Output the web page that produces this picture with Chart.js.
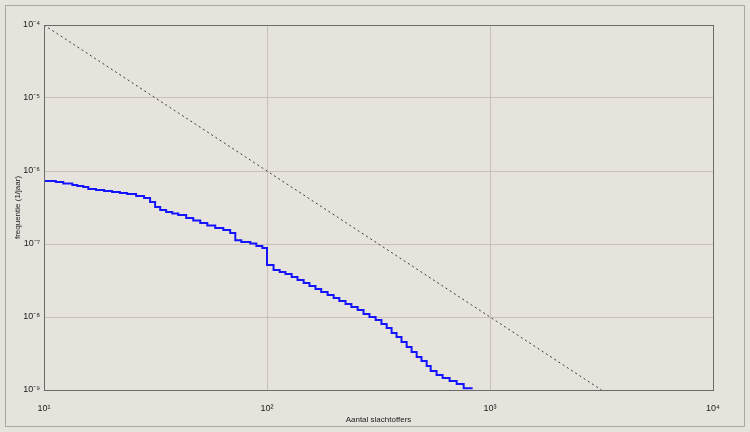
<!DOCTYPE html>
<html>
<head>
<meta charset="utf-8">
<script src="https://cdn.jsdelivr.net/npm/chart.js@4/dist/chart.umd.min.js"></script>
<style>
  html, body { margin: 0; padding: 0; background: #e6e3dd; }
  #wrap { width: 750px; height: 432px; }
</style>
</head>
<body>
<div id="wrap"><canvas id="c" width="750" height="432"></canvas></div>
<script>
// FN-curve: number of victims (N) and frequency (1/year), step points
const stepN = [10, 11.3, 12.2, 13.4, 14.1, 15.0, 15.8, 17.1, 18.6, 20.2, 21.9, 23.6, 25.9, 28.1,
  29.9, 31.5, 33.2, 35.3, 37.6, 40.0, 43.4, 46.7, 50.2, 54.0, 58.6, 63.7, 68.4, 72.1, 76.7,
  84.2, 89.6, 95.3, 100, 107, 114, 121, 129, 137, 146, 155, 165, 175, 187, 199, 211, 225,
  239, 255, 271, 288, 307, 326, 344, 362, 381, 401, 423, 445, 469, 493, 520, 542, 576, 613,
  659, 709, 762, 836];
const stepF = [7.30e-7, 7.07e-7, 6.74e-7, 6.43e-7, 6.23e-7, 6.04e-7, 5.67e-7, 5.49e-7, 5.32e-7,
  5.16e-7, 4.99e-7, 4.84e-7, 4.54e-7, 4.27e-7, 3.76e-7, 3.21e-7, 2.92e-7, 2.74e-7, 2.62e-7,
  2.50e-7, 2.27e-7, 2.10e-7, 1.94e-7, 1.79e-7, 1.66e-7, 1.56e-7, 1.41e-7, 1.13e-7, 1.065e-7,
  1.016e-7, 9.39e-8, 8.81e-8, 5.16e-8, 4.40e-8, 4.13e-8, 3.88e-8, 3.53e-8, 3.21e-8, 2.92e-8,
  2.66e-8, 2.42e-8, 2.20e-8, 2.00e-8, 1.82e-8, 1.66e-8, 1.51e-8, 1.37e-8, 1.25e-8, 1.10e-8,
  1.00e-8, 9.10e-9, 8.02e-9, 7.07e-9, 6.04e-9, 5.32e-9, 4.54e-9, 3.88e-9, 3.31e-9, 2.83e-9,
  2.50e-9, 2.13e-9, 1.82e-9, 1.61e-9, 1.46e-9, 1.33e-9, 1.21e-9, 1.06e-9, 1.06e-9];

// Norm line (dotted)
const normN = [10, 3162.3];
const normF = [1e-4, 1e-9];

const xTickValues = [10, 100, 1000, 10000];
const xTickLabels = ['10\u00B9', '10\u00B2', '10\u00B3', '10\u2074'];
const yTickValues = [1e-9, 1e-8, 1e-7, 1e-6, 1e-5, 1e-4];
const yTickLabels = ['10\u207B\u2079', '10\u207B\u2078', '10\u207B\u2077', '10\u207B\u2076', '10\u207B\u2075', '10\u207B\u2074'];

const xTitle = 'Aantal slachtoffers';
const yTitle = 'frequentie (1/jaar)';

const FONT = '"Liberation Sans", Arial, sans-serif';

const bgPlugin = {
  id: 'bg',
  beforeDraw(chart) {
    const ctx = chart.ctx;
    ctx.save();
    ctx.fillStyle = '#e6e3dd';
    ctx.fillRect(0, 0, chart.width, chart.height);
    ctx.strokeStyle = '#a9a7a2';
    ctx.lineWidth = 1;
    ctx.strokeRect(5.5, 5.5, 739, 421);
    ctx.restore();
  },
  afterDraw(chart) {
    const a = chart.chartArea;
    const ctx = chart.ctx;
    ctx.save();
    ctx.strokeStyle = '#6a6a6a';
    ctx.lineWidth = 1;
    ctx.strokeRect(Math.round(a.left) + 0.5, Math.round(a.top) + 0.5,
      Math.round(a.right - a.left), Math.round(a.bottom - a.top));
    ctx.restore();
  }
};

new Chart(document.getElementById('c'), {
  type: 'line',
  data: {
    datasets: [
      {
        data: stepN.map((n, i) => ({ x: n, y: stepF[i] })),
        borderColor: '#1414ff',
        borderWidth: 2,
        pointRadius: 0,
        stepped: true,
        fill: false
      },
      {
        data: normN.map((n, i) => ({ x: n, y: normF[i] })),
        borderColor: '#3a3a3a',
        borderWidth: 1,
        borderDash: [2, 3],
        pointRadius: 0,
        fill: false
      }
    ]
  },
  options: {
    responsive: false,
    animation: false,
    events: [],
    layout: { padding: { left: 0, right: 37, top: 25, bottom: 0 } },
    plugins: { legend: { display: false }, tooltip: { enabled: false } },
    scales: {
      x: {
        type: 'logarithmic',
        min: 10, max: 10000,
        afterFit(s) { s.height = 42; },
        afterBuildTicks(s) { s.ticks = xTickValues.map(v => ({ value: v })); },
        ticks: {
          autoSkip: false, maxRotation: 0, padding: 13,
          color: '#222', font: { family: FONT, size: 9 },
          callback(v) { const i = xTickValues.indexOf(v); return i >= 0 ? xTickLabels[i] : ''; }
        },
        grid: { color: 'rgba(195,186,176,0.85)', drawTicks: false },
        border: { color: '#6a6a6a' },
        title: {
          display: true, text: xTitle, color: '#222',
          font: { family: FONT, size: 8 }, padding: { top: 0, bottom: 7 }
        }
      },
      y: {
        type: 'logarithmic',
        min: 1e-9, max: 1e-4,
        afterFit(s) { s.width = 44; },
        afterBuildTicks(s) { s.ticks = yTickValues.map(v => ({ value: v })); },
        ticks: {
          autoSkip: false, padding: 4,
          color: '#222', font: { family: FONT, size: 9 },
          callback(v) {
            const i = yTickValues.findIndex(t => Math.abs(Math.log10(t) - Math.log10(v)) < 1e-6);
            return i >= 0 ? yTickLabels[i] : '';
          }
        },
        grid: { color: 'rgba(195,186,176,0.85)', drawTicks: false },
        border: { color: '#6a6a6a' },
        title: {
          display: true, text: yTitle, color: '#222',
          font: { family: FONT, size: 8 }, padding: { top: 13, bottom: 0 }
        }
      }
    }
  },
  plugins: [bgPlugin]
});
</script>
</body>
</html>
